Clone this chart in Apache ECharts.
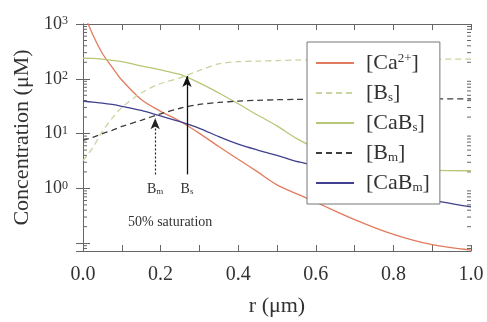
<!DOCTYPE html>
<html>
<head>
    <meta charset="utf-8">
    <title>Concentration profiles</title>
    <script src="https://cdn.jsdelivr.net/npm/echarts@6/dist/echarts.min.js"></script>
</head>
<body style="margin:0;background:#fff;">

<div id="main" style="width: 487px;height:322px;"></div>
<script type="text/javascript">
    // r (um) sample points (uM)
    var rVals  = [0, 0.025, 0.05, 0.075, 0.1, 0.15, 0.2, 0.25, 0.3, 0.35, 0.4, 0.45, 0.5, 0.55, 0.6, 0.7, 0.8, 0.9, 1.0];
    var caVals = [1700, 645, 290, 164, 95, 42, 25.5, 16.8, 10.1, 5.8, 3.4, 2.0, 1.16, 0.8, 0.56, 0.27, 0.145, 0.094, 0.075];
    var bsVals = [3.2, 5.5, 11, 19, 30, 55, 82, 104, 142, 187, 205, 210, 215, 220, 224, 228, 229, 229, 229];
    var cabsVals = [237, 235, 228, 217, 205, 172, 145, 120, 84, 55, 35, 21.8, 13.8, 8.2, 5.5, 3.4, 2.6, 2.15, 2.1];
    var bmVals = [7.5, 8.5, 10, 11.5, 13.5, 17.5, 23, 29, 34, 37, 39, 40.5, 41.5, 42, 42, 42.5, 43, 43, 43];
    var cabmVals = [39, 37.5, 36, 34, 31.5, 26.5, 21, 16.5, 12.5, 8.8, 6.4, 5.0, 4.0, 3.1, 2.6, 1.5, 0.95, 0.62, 0.46];

    var seriesNames = ['Ca', 'Bs', 'CaBs', 'Bm', 'CaBm'];
    var legendLabels = {
        'Ca': '[Ca{sup|2+}]',
        'Bs': '[B{sub|s}]',
        'CaBs': '[CaB{sub|s}]',
        'Bm': '[B{sub|m}]',
        'CaBm': '[CaB{sub|m}]'
    };

    // 50% saturation arrows: r position, bottom and tip (uM)
    var bsArrow = [0.268, 1.8, 112];
    var bmArrow = [0.186, 1.8, 19];

    var yMin = 0.072, yMax = 1000;

    var font = 'Liberation Serif';
    var axisColor = '#666';

    function pairs(ys) {
        var out = [];
        for (var i = 0; i < rVals.length; i++) out.push([rVals[i], ys[i]]);
        return out;
    }

    // log minor ticks (2..9 x 10^k) inside the frame
    var minorTicks = [];
    for (var k = -2; k <= 2; k++) {
        for (var m = 2; m <= 9; m++) {
            var v = m * Math.pow(10, k);
            if (v > yMin && v < yMax) minorTicks.push([0, v]);
        }
    }

    var myChart = echarts.init(document.getElementById('main'));

    var subRich = {
        sup: { fontSize: 12, fontFamily: font, color: '#333', verticalAlign: 'top', lineHeight: 12 },
        sub: { fontSize: 12, fontFamily: font, color: '#333', verticalAlign: 'bottom', lineHeight: 12 }
    };

    function lineSeries(name, data, color, dashed) {
        return {
            name: name,
            type: 'line',
            data: pairs(data),
            symbol: 'none',
            smooth: 0.3,
            lineStyle: { color: color, width: 1.3, type: dashed ? [6, 4] : 'solid' },
            itemStyle: { color: color },
            z: 3
        };
    }

    var caS = lineSeries('Ca', caVals, '#e27b5e', false);
    var bsS = lineSeries('Bs', bsVals, '#c6d4a0', true);
    var cabsS = lineSeries('CaBs', cabsVals, '#b6c877', false);
    var bmS = lineSeries('Bm', bmVals, '#3d3d3d', true);
    var cabmS = lineSeries('CaBm', cabmVals, '#40408e', false);

    var arrowLabel = {
        show: true,
        position: 'start',
        distance: 8,
        fontFamily: font,
        fontSize: 14,
        color: '#333',
        rich: {
            sub: { fontSize: 9, fontFamily: font, color: '#333', verticalAlign: 'bottom', lineHeight: 10 }
        }
    };

    cabmS.markLine = {
        silent: true,
        animation: false,
        symbol: ['none', 'arrow'],
        symbolSize: [7, 11],
        data: [
            [
                { coord: [bsArrow[0], bsArrow[1]], lineStyle: { color: '#111', width: 1.3, type: 'solid' },
                  label: Object.assign({}, arrowLabel, { formatter: 'B{sub|s}' }) },
                { coord: [bsArrow[0], bsArrow[2]] }
            ],
            [
                { coord: [bmArrow[0], bmArrow[1]], lineStyle: { color: '#222', width: 1.2, type: [2, 2] },
                  label: Object.assign({}, arrowLabel, { formatter: 'B{sub|m}' }) },
                { coord: [bmArrow[0], bmArrow[2]] }
            ]
        ]
    };

    var option = {
        animation: false,
        backgroundColor: '#fff',
        textStyle: { fontFamily: font },
        grid: { left: 83, right: 16, top: 24, bottom: 66 },
        legend: {
            data: seriesNames,
            orient: 'vertical',
            left: 307,
            top: 42,
            padding: [10, 10, 10, 8],
            itemGap: 8,
            itemWidth: 38,
            itemHeight: 2,
            itemStyle: { opacity: 0 },
            backgroundColor: '#fff',
            borderColor: '#777',
            borderWidth: 1,
            borderRadius: 0,
            formatter: function (name) { return legendLabels[name]; },
            textStyle: {
                fontFamily: font,
                fontSize: 22,
                lineHeight: 22,
                color: '#333',
                padding: [0, 0, 0, 7],
                rich: {
                    sup: { fontSize: 13, fontFamily: font, color: '#333', verticalAlign: 'top', lineHeight: 13 },
                    sub: { fontSize: 13, fontFamily: font, color: '#333', verticalAlign: 'bottom', lineHeight: 13 }
                }
            },
            z: 10
        },
        xAxis: [
            {
                type: 'value',
                min: 0,
                max: 1,
                interval: 0.1,
                name: 'r (\u03bcm)',
                nameLocation: 'middle',
                nameGap: 44,
                nameTextStyle: { fontFamily: font, fontSize: 22, color: '#333' },
                axisLine: { lineStyle: { color: axisColor } },
                axisTick: { inside: true, length: 6, lineStyle: { color: axisColor } },
                splitLine: { show: false },
                axisLabel: {
                    margin: 14,
                    fontFamily: font,
                    fontSize: 20,
                    color: '#333',
                    formatter: function (v) {
                        return Math.round(v * 10) % 2 === 0 ? v.toFixed(1) : '';
                    }
                }
            },
            {
                type: 'value',
                position: 'top',
                min: 0,
                max: 1,
                interval: 0.1,
                axisLine: { lineStyle: { color: axisColor } },
                axisTick: { inside: true, length: 6, lineStyle: { color: axisColor } },
                axisLabel: { show: false },
                splitLine: { show: false }
            }
        ],
        yAxis: [
            {
                type: 'log',
                min: yMin,
                max: yMax,
                name: 'Concentration (\u03bcM)',
                nameLocation: 'middle',
                nameGap: 50,
                nameTextStyle: { fontFamily: font, fontSize: 22, color: '#333' },
                axisLine: { lineStyle: { color: axisColor } },
                axisTick: { inside: true, length: 7, lineStyle: { color: axisColor } },
                splitLine: { show: false },
                axisLabel: {
                    margin: 15,
                    fontFamily: font,
                    fontSize: 18,
                    color: '#333',
                    rich: subRich,
                    formatter: function (v) {
                        var e = Math.log10(v);
                        var re = Math.round(e);
                        if (Math.abs(e - re) > 1e-6 || re < 0) return '';
                        return '10{sup|' + re + '}';
                    }
                }
            },
            {
                type: 'log',
                position: 'right',
                min: yMin,
                max: yMax,
                axisLine: { lineStyle: { color: axisColor } },
                axisTick: { inside: true, length: 7, lineStyle: { color: axisColor } },
                axisLabel: { show: false },
                splitLine: { show: false }
            }
        ],
        graphic: [
            {
                type: 'text',
                left: 128,
                top: 215,
                style: {
                    text: '50% saturation',
                    font: '14px "Liberation Serif"',
                    fill: '#333'
                }
            }
        ],
        series: [
            caS, bsS, cabsS, bmS, cabmS,
            {
                type: 'custom',
                silent: true,
                data: minorTicks,
                z: 2,
                renderItem: function (params, api) {
                    var cs = params.coordSys;
                    var y = api.coord([0, api.value(1)])[1];
                    var st = { stroke: axisColor, lineWidth: 1 };
                    return {
                        type: 'group',
                        children: [
                            { type: 'line', shape: { x1: cs.x, y1: y, x2: cs.x + 4, y2: y }, style: st },
                            { type: 'line', shape: { x1: cs.x + cs.width, y1: y, x2: cs.x + cs.width - 4, y2: y }, style: st }
                        ]
                    };
                }
            }
        ]
    };

    myChart.setOption(option);
</script>
</body>
</html>
